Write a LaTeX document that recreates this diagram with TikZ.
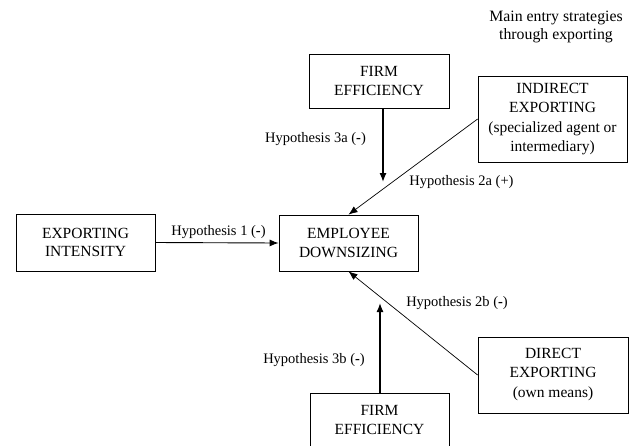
\documentclass[tikz,border=0pt]{standalone}
\usepackage{fontspec}
\setmainfont{Liberation Serif}
\usetikzlibrary{arrows.meta}
\begin{document}
\begin{tikzpicture}[x=1pt,y=-1pt,
  box/.style={draw=black, line width=0.8pt, rectangle, align=center, inner sep=0pt,
    font=\fontsize{15.5}{18.5}\selectfont},
  lbl/.style={inner sep=0pt, align=center, font=\fontsize{14.5}{18}\selectfont},
  ttl/.style={inner sep=0pt, align=center, font=\fontsize{15.8}{18}\selectfont},
  varr/.style={line width=1.3pt, -{Latex[length=9pt,width=7pt]}},
  darr/.style={line width=0.7pt, -{Latex[length=9pt,width=7pt]}},
  harr/.style={line width=0.9pt, -{Latex[length=9pt,width=7pt]}}]
\useasboundingbox (0,0) rectangle (631,445);
% boxes
\node[box, minimum width=140pt, minimum height=54pt] (ft) at (379,81) {FIRM\\EFFICIENCY};
\node[box, minimum width=149pt, minimum height=86pt] (ind) at (552.5,119) {INDIRECT\\EXPORTING\\[2pt](specialized agent or\\intermediary)};
\node[box, minimum width=139pt, minimum height=57pt] (ei) at (85.5,242.5) {EXPORTING\\INTENSITY};
\node[box, minimum width=139pt, minimum height=56pt] (emp) at (348.5,243) {EMPLOYEE\\DOWNSIZING};
\node[box, minimum width=150pt, minimum height=76pt] (dir) at (553,375) {DIRECT\\EXPORTING\\[2pt](own means)};
\node[box, minimum width=139pt, minimum height=54pt] (fb) at (379.5,420) {FIRM\\EFFICIENCY};
% title
\node[ttl] (title) at (556,27) {Main entry strategies\\through exporting};
% connectors
\coordinate (t3a) at (383,182);
\coordinate (t3b) at (380,303);
\draw[varr] (t3a |- ft.south) -- (t3a);
\draw[varr] (t3b |- fb.north) -- (t3b);
\draw[darr] (ind.west) -- (emp.north);
\draw[darr] (dir.west) -- (emp.south);
\draw[harr] (ei.east) -- (emp.west);
% labels
\node[lbl] (h3a) at (315.5,139) {Hypothesis 3a (\textbf{-})};
\node[lbl] (h2a) at (461.5,182) {Hypothesis 2a (+)};
\node[lbl] (h1) at (218.5,232) {Hypothesis 1 (\textbf{-})};
\node[lbl] (h2b) at (457,303) {Hypothesis 2b (\textbf{-})};
\node[lbl] (h3b) at (314,360) {Hypothesis 3b (\textbf{-})};
\end{tikzpicture}
\end{document}
